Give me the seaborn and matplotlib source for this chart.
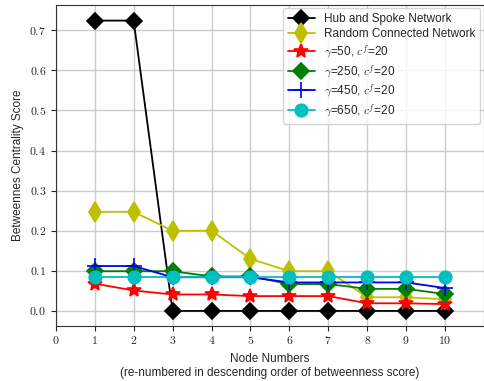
import matplotlib
matplotlib.use("Agg")
import matplotlib.pyplot as plt
import matplotlib.ticker as mticker
import numpy as np
import pandas as pd
import seaborn as sns

nodes = [1, 2, 3, 4, 5, 6, 7, 8, 9, 10]
hub_spoke = [0.724, 0.724, 0.0, 0.0, 0.0, 0.0, 0.0, 0.0, 0.0, 0.0]
random_net = [0.247, 0.247, 0.2, 0.2, 0.13, 0.099, 0.099, 0.034, 0.034, 0.029]
gamma_50 = [0.068, 0.051, 0.041, 0.041, 0.037, 0.037, 0.037, 0.019, 0.019, 0.017]
gamma_250 = [0.099, 0.099, 0.099, 0.086, 0.086, 0.067, 0.067, 0.055, 0.055, 0.042]
gamma_450 = [0.112, 0.112, 0.084, 0.084, 0.084, 0.071, 0.071, 0.071, 0.071, 0.057]
gamma_650 = [0.085, 0.085, 0.085, 0.085, 0.085, 0.085, 0.085, 0.085, 0.085, 0.085]

labels = ['Hub and Spoke Network', 'Random Connected Network',
          r'$\gamma$=50, $c^f$=20', r'$\gamma$=250, $c^f$=20',
          r'$\gamma$=450, $c^f$=20', r'$\gamma$=650, $c^f$=20']
series = [hub_spoke, random_net, gamma_50, gamma_250, gamma_450, gamma_650]
colors = ['k', 'y', 'r', 'g', 'b', 'c']
markers = ['D', 'd', '*', 'D', '+', 'o']
msizes = [8, 10, 10, 8, 11, 9]

sns.set_style('ticks')
plt.rcParams['mathtext.fontset'] = 'cm'
plt.rcParams['font.family'] = ['Liberation Sans', 'DejaVu Sans']

fig, ax = plt.subplots(figsize=(4.85, 3.81), dpi=100)
for vals, lab, c, m, ms in zip(series, labels, colors, markers, msizes):
    df = pd.DataFrame({'node': nodes, 'score': vals})
    sns.lineplot(data=df, x='node', y='score', color=c, marker=m, markersize=ms,
                 markeredgecolor=c, markeredgewidth=1.2, linewidth=1.3,
                 label=lab, ax=ax)

ax.set_xlim(0, 11)
ax.set_ylim(-0.037, 0.763)
ax.xaxis.set_major_locator(mticker.FixedLocator(range(0, 11)))
ax.yaxis.set_major_locator(mticker.MultipleLocator(0.1))
ax.xaxis.set_major_formatter(mticker.FuncFormatter(lambda v, p: r'$%d$' % v))
ax.yaxis.set_major_formatter(mticker.FuncFormatter(lambda v, p: r'$%.1f$' % v))
ax.tick_params(labelsize=8.5)
ax.grid(True, color='#cccccc', linewidth=1)
ax.set_axisbelow(True)
for s in ax.spines.values():
    s.set_color('#333333')
ax.set_xlabel('Node Numbers\n(re-numbered in descending order of betweenness score)', fontsize=8.5)
ax.set_ylabel('Betweennes Centrality Score', fontsize=8.5)
ax.legend(loc='upper right', fontsize=8.5, handlelength=2.3, borderaxespad=0.3,
          labelspacing=0.25)

fig.subplots_adjust(left=0.115, right=0.998, top=0.987, bottom=0.145)
fig.savefig('out.png', dpi=100)
